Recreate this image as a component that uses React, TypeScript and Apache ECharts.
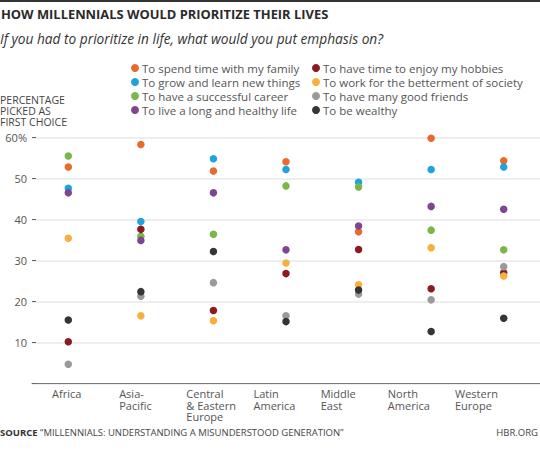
import React, { useEffect, useRef } from "react";
import * as echarts from "echarts";

const regions = ["Africa", "Asia-Pacific", "Central & Eastern Europe", "Latin America", "Middle East", "North America", "Western Europe"];
const regionLabels = ["Africa", "Asia-\nPacific", "Central\n& Eastern\nEurope", "Latin\nAmerica", "Middle\nEast", "North\nAmerica", "Western\nEurope"];

const seriesNames = [
  "To spend time with my family",
  "To grow and learn new things",
  "To have a successful career",
  "To live a long and healthy life",
  "To have time to enjoy my hobbies",
  "To work for the betterment of society",
  "To have many good friends",
  "To be wealthy",
];
const seriesColors = ["#ea6a2e", "#1ea3de", "#7ab648", "#7e4590", "#8a1b22", "#f8b03a", "#9a9a9a", "#353535"];

const family = [52.8, 58.3, 51.8, 54.1, 37.0, 59.8, 54.3];
const grow = [47.6, 39.5, 54.8, 52.2, 49.1, 52.2, 52.8];
const career = [55.5, 35.9, 36.4, 48.2, 47.9, 37.4, 32.6];
const healthy = [46.5, 34.9, 46.5, 32.6, 38.4, 43.2, 42.5];
const hobbies = [10.2, 37.6, 17.8, 26.8, 32.7, 23.1, 27.0];
const society = [35.4, 16.5, 15.3, 29.4, 24.1, 33.1, 26.2];
const friends = [4.7, 21.3, 24.6, 16.5, 21.8, 20.4, 28.5];
const wealthy = [15.5, 22.4, 32.2, 15.1, 22.8, 12.7, 15.9];
const seriesValues = [family, grow, career, healthy, hobbies, society, friends, wealthy];

const yTicks = [10, 20, 30, 40, 50, 60];

const FONT = "Open Sans";

export default function App() {
  const ref = useRef<HTMLDivElement>(null);
  useEffect(() => {
    if (!ref.current) return;
    const chart = echarts.init(ref.current, null, { renderer: "svg" });
    const legendItem = (name: string) => ({ name, icon: "circle" });
    const legendBase = {
      orient: "vertical",
      top: 61,
      itemWidth: 8,
      itemHeight: 8,
      itemGap: 0,
      padding: 0,
      textStyle: { fontFamily: FONT, fontSize: 11.5, lineHeight: 14, color: "#555", padding: [0, 0, 0, -2] },
    };
    chart.setOption({
      animation: false,
      backgroundColor: "#fff",
      textStyle: { fontFamily: FONT },
      title: [
        {
          text: "HOW MILLENNIALS WOULD PRIORITIZE THEIR LIVES",
          left: 1,
          top: 7,
          padding: 0,
          textStyle: { fontFamily: FONT, fontWeight: "bold", fontSize: 12.9, color: "#2a2a2a" },
        },
        {
          text: "If you had to prioritize in life, what would you put emphasis on?",
          left: 0,
          top: 31,
          padding: 0,
          textStyle: { fontFamily: FONT, fontStyle: "italic", fontWeight: "normal", fontSize: 13.7, color: "#333" },
        },
        {
          text: "PERCENTAGE\nPICKED AS\nFIRST CHOICE",
          left: 0,
          top: 94,
          padding: 0,
          textStyle: { fontFamily: FONT, fontWeight: "normal", fontSize: 10.5, lineHeight: 11, color: "#444" },
        },
        {
          text: "{b|SOURCE} \u201cMILLENNIALS: UNDERSTANDING A MISUNDERSTOOD GENERATION\u201d",
          left: 0,
          top: 427,
          padding: 0,
          textStyle: {
            fontFamily: FONT,
            fontWeight: "normal",
            fontSize: 9.5,
            color: "#444",
            rich: { b: { fontFamily: FONT, fontWeight: "bold", fontSize: 9.5, color: "#333" } },
          },
        },
        {
          text: "HBR.ORG",
          right: 2,
          top: 427,
          padding: 0,
          textStyle: { fontFamily: FONT, fontWeight: "normal", fontSize: 9.5, color: "#444" },
        },
      ],
      graphic: [
        { type: "line", shape: { x1: 0, y1: 1, x2: 540, y2: 1 }, style: { stroke: "#333", lineWidth: 2 } },
      ],
      legend: [
        { ...legendBase, data: seriesNames.slice(0, 4).map(legendItem), left: 131 },
        { ...legendBase, data: seriesNames.slice(4).map(legendItem), left: 312 },
      ],
      grid: [
        { left: 32, right: 0, top: 137.5, bottom: 69.5, containLabel: false },
        { left: 52, right: 85, top: 137.5, bottom: 69.5, containLabel: false },
      ],
      xAxis: [
        {
          type: "category",
          gridIndex: 0,
          data: regions,
          boundaryGap: true,
          axisLine: { show: true, lineStyle: { color: "#777", width: 1 } },
          axisTick: { show: false },
          axisLabel: { show: false },
          splitLine: { show: false },
        },
        {
          type: "category",
          gridIndex: 1,
          data: regionLabels,
          boundaryGap: false,
          axisLine: { show: false },
          axisTick: { show: false },
          axisLabel: {
            show: true,
            interval: 0,
            align: "left",
            margin: 4,
            fontFamily: FONT,
            fontSize: 11,
            lineHeight: 11.7,
            color: "#555",
          },
        },
      ],
      yAxis: [
        {
          type: "value",
          gridIndex: 0,
          min: 0,
          max: 60,
          interval: 10,
          axisLine: { show: false },
          axisTick: { show: true, inside: true, length: 4, lineStyle: { color: "#666" } },
          axisLabel: {
            margin: 5,
            fontFamily: FONT,
            fontSize: 11,
            color: "#555",
            formatter: (v: number) => (yTicks.indexOf(v) < 0 ? "" : v === 60 ? "60%" : String(v)),
          },
          splitLine: { show: true, lineStyle: { color: "#e9e9e9", width: 1.5 } },
        },
        {
          type: "value",
          gridIndex: 1,
          min: 0,
          max: 60,
          show: false,
        },
      ],
      series: seriesNames.map((name, i) => ({
        name,
        type: "scatter",
        xAxisIndex: 0,
        yAxisIndex: 0,
        symbol: "circle",
        symbolSize: 7.5,
        itemStyle: { color: seriesColors[i], opacity: 1 },
        data: seriesValues[i],
      })),
    });
    return () => chart.dispose();
  }, []);
  return <div ref={ref} style={{ position: "fixed", left: 0, top: 0, width: 540, height: 453 }} />;
}
